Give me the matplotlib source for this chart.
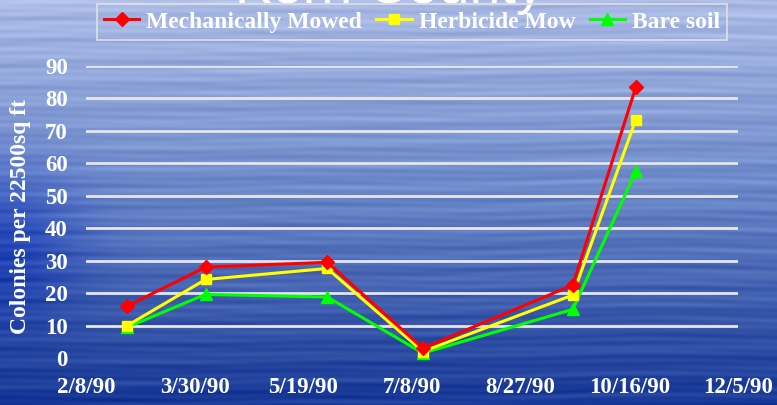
import numpy as np
import matplotlib
matplotlib.use('Agg')
import matplotlib.pyplot as plt
from matplotlib import dates as pltdates
from datetime import datetime

# data
sample_dates = ['1990-02-27', '1990-04-04', '1990-05-30', '1990-07-13', '1990-09-20', '1990-10-19']
mowed = [16, 28, 29.5, 3, 22.5, 83.5]
herbicide = [10, 24.2, 27.6, 2, 19.4, 73.5]
bare = [9.5, 19.6, 18.8, 1.5, 15, 57.5]
tick_dates = ['1990-02-08', '1990-03-30', '1990-05-19', '1990-07-08', '1990-08-27', '1990-10-16', '1990-12-05']
tick_labels = ['2/8/90', '3/30/90', '5/19/90', '7/8/90', '8/27/90', '10/16/90', '12/5/90']
yticks = [0, 10, 20, 30, 40, 50, 60, 70, 80, 90]

W, H = 777, 405
fig = plt.figure(figsize=(W/100, H/100), dpi=100)

# watery blue background (smooth gradient + soft horizontal ripples)
yy, xx = np.mgrid[0:H, 0:W].astype(float)
t = yy / H
top = np.array([172, 188, 230])
mid = np.array([110, 138, 202])
bot = np.array([22, 55, 150])
base = np.where(t[..., None] < 0.45,
                top + (mid - top) * (t[..., None] / 0.45),
                mid + (bot - mid) * ((t[..., None] - 0.45) / 0.55))
streak = (0.40 * np.sin(2 * np.pi * yy / 11.3 + 2.2 * np.sin(2 * np.pi * xx / 510.0))
          * (0.6 + 0.4 * np.sin(2 * np.pi * xx / 230.0 + yy / 37.0))
          + 0.35 * np.sin(2 * np.pi * yy / 23.7 + xx / 190.0)
          + 0.25 * np.sin(2 * np.pi * yy / 6.9 + 1.3 * np.cos(2 * np.pi * xx / 330.0)))
left_dark = np.exp(-((xx / 80.0) ** 2)) * np.exp(-(((yy - 240) / 80.0) ** 2))
bg = base + streak[..., None] * np.array([17, 17, 13]) - left_dark[..., None] * np.array([50, 45, 5])
bg = np.clip(bg, 0, 255) / 255.0
bgax = fig.add_axes([0, 0, 1, 1])
bgax.imshow(bg, aspect='auto', interpolation='bilinear')
bgax.axis('off')

# plot area
ax = fig.add_axes([86/W, (H-358)/H, 652/W, (358-66)/H])
ax.patch.set_alpha(0)
x = [pltdates.date2num(datetime.strptime(d, '%Y-%m-%d')) for d in sample_dates]
xt = [pltdates.date2num(datetime.strptime(d, '%Y-%m-%d')) for d in tick_dates]

ax.plot(x, mowed, color='#ff0000', lw=2.2, marker='D', ms=7, label='Mechanically Mowed', clip_on=False, zorder=5)
ax.plot(x, herbicide, color='#ffff00', lw=2.2, marker='s', ms=7, label='Herbicide Mow', clip_on=False, zorder=4)
ax.plot(x, bare, color='#00ff00', lw=2.2, marker='^', ms=8, label='Bare soil', clip_on=False, zorder=3)

ax.set_xlim(xt[0], xt[-1])
ax.set_ylim(0, 90)
ax.set_xticks(xt)
ax.set_xticklabels(tick_labels)
ax.set_yticks(yticks)
for s in ax.spines.values():
    s.set_visible(False)
ax.grid(axis='y', color='#e6e6e6', lw=2)
ax.get_ygridlines()[0].set_visible(False)
ax.tick_params(length=0, colors='white')
ax.tick_params(axis='x', pad=14)
ax.tick_params(axis='y', pad=13)
for lab in ax.get_xticklabels() + ax.get_yticklabels():
    lab.set_fontfamily('Liberation Serif')
    lab.set_fontweight('bold')
    lab.set_fontsize(16.5)
    lab.set_color('white')

fig.text(21/W, 1 - 216/H, 'Colonies per 22500sq ft', rotation=90, ha='center', va='center',
         family='Liberation Serif', weight='bold', fontsize=17, color='white')

# title sits mostly above the top edge, as in the original slide
fig.text(389/W, 1 - 3/H, 'Kern County', ha='center', va='baseline',
         family='Liberation Sans', fontsize=40, color='white')

leg = fig.legend(loc='upper center', bbox_to_anchor=(412/W, 1 - 4/H), ncol=3,
                 prop={'family': 'Liberation Serif', 'weight': 'bold', 'size': 17},
                 handlelength=1.5, handletextpad=0.3, columnspacing=0.6,
                 borderpad=0.3, borderaxespad=0, fancybox=False, framealpha=1)
leg.get_frame().set_facecolor('none')
leg.get_frame().set_edgecolor('#e0e0e0')
leg.get_frame().set_linewidth(1.2)
for txt in leg.get_texts():
    txt.set_color('white')

fig.savefig('out.png', dpi=100)
